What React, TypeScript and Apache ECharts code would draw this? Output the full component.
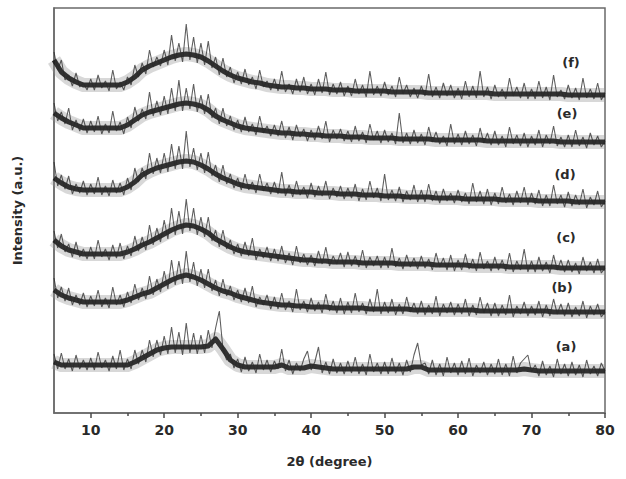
import React, { useEffect, useRef } from "react";
import * as echarts from "echarts";

// 2θ grid: 5° to 80°, raw traces in 0.5° steps (151 points), band centres in 1° steps (76 points)
const thetaStart = 5;
const thetaStep = 0.5;
const bandStep = 1;

const xTickLabels = [10, 20, 30, 40, 50, 60, 70, 80];
const xMinorTicks = [15, 25, 35, 45, 55, 65, 75];

const curveNames = ["(a)", "(b)", "(c)", "(d)", "(e)", "(f)"];

const curveA = [
  59, 44, 60, 44, 54, 42, 58, 44, 53, 43,
  55, 43, 61, 45, 53, 42, 57, 44, 63, 43,
  54, 44, 63, 49, 63, 51, 73, 56, 73, 58,
  77, 59, 86, 60, 81, 58, 90, 60, 80, 59,
  78, 60, 83, 65, 85, 102, 64, 53, 59, 45,
  54, 41, 56, 42, 51, 40, 59, 43, 53, 41,
  52, 44, 64, 42, 53, 39, 50, 42, 54, 62,
  43, 51, 66, 40, 51, 39, 54, 40, 50, 39,
  52, 40, 56, 39, 49, 38, 59, 41, 50, 39,
  51, 39, 55, 40, 50, 38, 53, 41, 58, 70,
  48, 50, 39, 53, 38, 49, 37, 56, 40, 50,
  38, 52, 39, 55, 37, 48, 40, 51, 38, 49,
  39, 54, 38, 49, 37, 57, 40, 50, 54, 58,
  41, 48, 37, 52, 38, 47, 36, 54, 39, 49,
  37, 51, 38, 48, 36, 53, 39, 47, 37, 50,
  42,
];

const curveB = [
  135, 115, 126, 112, 125, 108, 118, 108, 120, 106,
  117, 107, 123, 106, 115, 105, 126, 108, 118, 106,
  121, 110, 129, 113, 125, 114, 137, 118, 134, 121,
  142, 124, 153, 128, 152, 129, 162, 131, 151, 127,
  144, 125, 144, 122, 133, 117, 134, 117, 127, 113,
  123, 111, 125, 110, 127, 106, 116, 108, 118, 104,
  116, 104, 120, 103, 112, 101, 124, 103, 112, 101,
  115, 102, 111, 100, 119, 102, 112, 100, 115, 99,
  111, 100, 120, 101, 110, 99, 114, 101, 124, 99,
  111, 100, 114, 98, 109, 99, 116, 101, 110, 99,
  112, 98, 108, 99, 117, 97, 109, 100, 111, 98,
  109, 99, 114, 97, 108, 98, 116, 100, 110, 97,
  110, 97, 108, 98, 118, 96, 107, 99, 111, 97,
  107, 98, 112, 96, 108, 97, 114, 99, 109, 97,
  110, 96, 106, 97, 112, 95, 107, 98, 109, 96,
  101,
];

const curveC = [
  182, 165, 179, 161, 169, 156, 171, 156, 164, 154,
  166, 154, 173, 156, 164, 153, 168, 155, 170, 154,
  167, 157, 177, 162, 176, 163, 188, 168, 185, 171,
  193, 174, 205, 178, 202, 179, 214, 182, 205, 178,
  196, 176, 196, 172, 183, 166, 183, 164, 173, 159,
  169, 157, 171, 157, 175, 153, 164, 155, 166, 152,
  164, 152, 167, 150, 160, 148, 167, 150, 159, 148,
  158, 147, 162, 149, 166, 147, 157, 149, 160, 146,
  161, 147, 157, 146, 163, 145, 156, 147, 157, 145,
  156, 145, 165, 146, 155, 144, 158, 146, 155, 144,
  157, 145, 154, 143, 160, 146, 155, 143, 158, 142,
  153, 143, 159, 144, 154, 142, 161, 144, 152, 142,
  156, 143, 153, 142, 160, 141, 152, 143, 164, 141,
  152, 141, 156, 142, 151, 140, 158, 143, 153, 141,
  153, 141, 150, 139, 156, 142, 151, 140, 154, 140,
  145,
];

const curveD = [
  251, 227, 238, 224, 237, 219, 229, 220, 232, 218,
  229, 219, 236, 218, 227, 217, 233, 220, 230, 218,
  235, 223, 245, 231, 245, 234, 260, 239, 255, 240,
  260, 241, 269, 244, 267, 244, 282, 246, 265, 243,
  260, 240, 261, 237, 248, 231, 248, 229, 239, 225,
  235, 223, 239, 223, 231, 220, 239, 222, 230, 219,
  231, 219, 241, 217, 228, 216, 232, 218, 226, 215,
  230, 216, 227, 217, 232, 214, 225, 216, 227, 214,
  225, 215, 229, 212, 224, 213, 232, 215, 225, 212,
  239, 213, 223, 212, 226, 211, 222, 213, 228, 211,
  223, 211, 229, 212, 222, 210, 224, 212, 220, 210,
  223, 211, 220, 209, 230, 211, 222, 209, 224, 208,
  220, 209, 226, 210, 219, 208, 222, 210, 226, 208,
  220, 209, 223, 207, 218, 207, 228, 209, 218, 206,
  221, 207, 218, 208, 224, 205, 216, 208, 222, 206,
  212,
];

const curveE = [
  310, 292, 301, 289, 305, 283, 293, 282, 294, 280,
  292, 281, 297, 279, 289, 280, 302, 282, 291, 279,
  296, 285, 306, 292, 304, 294, 321, 297, 312, 298,
  317, 299, 325, 302, 333, 302, 325, 304, 329, 301,
  318, 299, 319, 295, 305, 289, 305, 287, 297, 283,
  293, 281, 296, 281, 289, 278, 297, 280, 287, 277,
  288, 277, 292, 275, 286, 273, 288, 276, 284, 272,
  283, 273, 287, 274, 292, 271, 283, 274, 284, 272,
  282, 271, 287, 272, 281, 270, 289, 273, 282, 270,
  283, 271, 280, 269, 300, 270, 280, 269, 283, 270,
  279, 268, 286, 271, 281, 269, 277, 267, 289, 269,
  279, 268, 282, 269, 278, 267, 285, 270, 280, 268,
  282, 268, 277, 266, 286, 269, 278, 267, 280, 266,
  277, 268, 283, 266, 278, 269, 287, 267, 276, 266,
  278, 266, 283, 267, 276, 265, 280, 268, 277, 266,
  272,
];

const curveF = [
  361, 343, 353, 333, 338, 327, 340, 326, 330, 323,
  334, 323, 338, 325, 332, 322, 343, 324, 331, 323,
  336, 328, 348, 336, 350, 339, 363, 346, 356, 347,
  363, 348, 378, 352, 370, 351, 389, 353, 376, 350,
  370, 348, 372, 345, 356, 338, 355, 336, 346, 330,
  341, 329, 344, 328, 336, 324, 343, 326, 332, 323,
  334, 322, 342, 321, 329, 319, 334, 321, 336, 319,
  329, 318, 334, 320, 341, 318, 329, 319, 331, 317,
  327, 317, 334, 319, 328, 316, 342, 318, 327, 317,
  331, 318, 327, 316, 336, 319, 328, 316, 325, 315,
  327, 317, 339, 316, 326, 315, 330, 317, 328, 315,
  325, 314, 332, 316, 327, 315, 342, 316, 326, 314,
  328, 316, 324, 314, 335, 317, 326, 315, 330, 314,
  324, 314, 332, 315, 326, 313, 338, 316, 323, 314,
  328, 315, 325, 313, 335, 315, 324, 314, 330, 313,
  320,
];

// dense (dark) part of each trace, read at 1° steps
const bandA = [
  51, 48, 48, 48, 48, 48, 48, 48, 48, 48,
  48, 51, 55, 59, 63, 65, 66, 66, 66, 66,
  66, 67, 74, 64, 53, 48, 46, 46, 46, 46,
  46, 48, 45, 45, 45, 47, 46, 45, 44, 44,
  44, 44, 44, 44, 44, 44, 44, 44, 44, 46,
  46, 43, 43, 43, 43, 43, 43, 43, 43, 43,
  43, 43, 43, 43, 44, 43, 42, 42, 42, 42,
  42, 42, 42, 42, 42, 42,
];
const bandB = [
  123, 118, 115, 113, 111, 111, 111, 111, 111, 111,
  113, 116, 119, 121, 125, 129, 133, 136, 138, 136,
  133, 129, 125, 122, 120, 117, 115, 113, 111, 110,
  109, 108, 108, 107, 107, 106, 106, 106, 105, 105,
  105, 105, 105, 104, 104, 104, 104, 104, 104, 103,
  103, 103, 103, 103, 103, 103, 103, 103, 102, 102,
  102, 102, 102, 102, 102, 102, 102, 102, 101, 101,
  101, 101, 101, 101, 101, 101,
];
const bandC = [
  173, 167, 163, 161, 159, 159, 159, 159, 159, 159,
  161, 164, 168, 171, 175, 179, 183, 186, 188, 187,
  184, 180, 174, 170, 166, 163, 161, 160, 159, 158,
  157, 156, 155, 154, 153, 153, 152, 152, 151, 151,
  151, 151, 150, 150, 150, 150, 150, 149, 149, 149,
  149, 149, 148, 148, 148, 148, 148, 147, 147, 147,
  147, 147, 146, 146, 146, 146, 146, 146, 146, 145,
  145, 145, 145, 145, 145, 145,
];
const bandD = [
  235, 230, 226, 224, 223, 223, 223, 223, 223, 223,
  226, 231, 238, 242, 245, 247, 249, 251, 252, 251,
  248, 244, 239, 235, 232, 229, 227, 226, 225, 224,
  223, 222, 222, 221, 221, 221, 220, 220, 220, 219,
  219, 219, 218, 218, 218, 217, 217, 217, 216, 216,
  216, 216, 215, 215, 215, 215, 214, 214, 214, 214,
  214, 213, 213, 213, 213, 213, 212, 212, 212, 212,
  212, 211, 211, 211, 211, 211,
];
const bandE = [
  300, 295, 291, 288, 285, 285, 285, 285, 285, 285,
  288, 293, 298, 301, 303, 305, 307, 309, 310, 309,
  307, 303, 297, 293, 290, 287, 285, 284, 283, 282,
  281, 280, 280, 279, 279, 278, 278, 277, 277, 277,
  276, 276, 276, 275, 275, 275, 275, 274, 274, 274,
  274, 274, 273, 273, 273, 273, 273, 273, 273, 272,
  272, 272, 272, 272, 272, 272, 272, 272, 272, 271,
  271, 271, 271, 271, 271, 271,
];
const bandF = [
  353, 341, 335, 331, 328, 328, 328, 328, 328, 328,
  331, 336, 343, 347, 350, 353, 356, 358, 359, 358,
  356, 352, 347, 342, 338, 335, 333, 331, 330, 328,
  327, 326, 326, 325, 325, 324, 324, 324, 323, 323,
  323, 322, 322, 322, 322, 322, 321, 321, 321, 321,
  321, 320, 320, 320, 320, 320, 320, 320, 320, 320,
  319, 319, 319, 319, 319, 319, 319, 319, 319, 319,
  318, 318, 318, 318, 318, 318,
];

const curves = [curveA, curveB, curveC, curveD, curveE, curveF];
const bands = [bandA, bandB, bandC, bandD, bandE, bandF];

const toPairs = (vals: number[], step: number) =>
  vals.map((v, i) => [thetaStart + i * step, v]);

export default function App() {
  const ref = useRef<HTMLDivElement>(null);

  useEffect(() => {
    document.body.style.margin = "0";
    if (!ref.current) return;
    const chart = echarts.init(ref.current, undefined, { renderer: "svg" });
    const font = "DejaVu Sans, Verdana, sans-serif";
    const textColor = "#2a2a2a";
    const labelPos = [
      [566, 346],
      [562, 287],
      [566, 237],
      [565, 174],
      [567, 113],
      [571, 62],
    ];
    const haloSeries = bands.map((b, i) => ({
      name: curveNames[i] + " halo",
      type: "line",
      data: toPairs(b, bandStep),
      showSymbol: false,
      symbol: "none",
      silent: true,
      lineStyle: { color: "#909090", width: 14, opacity: 0.35, cap: "butt", join: "round" },
      z: 1,
    }));
    const bandSeries = bands.map((b, i) => ({
      name: curveNames[i] + " band",
      type: "line",
      data: toPairs(b, bandStep),
      showSymbol: false,
      symbol: "none",
      silent: true,
      lineStyle: { color: "#141414", width: 5, opacity: 0.85, cap: "butt", join: "round" },
      z: 2,
    }));
    const noiseSeries = curves.map((c, i) => ({
      name: curveNames[i],
      type: "line",
      data: toPairs(c, thetaStep),
      showSymbol: false,
      symbol: "none",
      lineStyle: { color: "#2a2a2a", width: 1.1, opacity: 0.75 },
      z: 3,
    }));
    chart.setOption({
      animation: false,
      backgroundColor: "#ffffff",
      grid: {
        left: 54,
        right: 21,
        top: 8,
        bottom: 66,
        show: true,
        borderColor: "#6a6a6a",
        borderWidth: 1.5,
        backgroundColor: "transparent",
      },
      xAxis: [
        {
          type: "value",
          min: 5,
          max: 80,
          name: "2θ (degree)",
          nameLocation: "middle",
          nameGap: 42,
          nameTextStyle: {
            fontFamily: font,
            fontWeight: "bold",
            fontSize: 13,
            color: textColor,
          },
          axisLine: { show: true, onZero: false, lineStyle: { color: "#6a6a6a", width: 1.5 } },
          axisTick: {
            show: true,
            inside: false,
            length: 5,
            customValues: xTickLabels,
            lineStyle: { color: "#4a4a4a", width: 1.5 },
          },
          axisLabel: {
            customValues: xTickLabels,
            margin: 10,
            fontFamily: font,
            fontWeight: "bold",
            fontSize: 14,
            color: textColor,
          },
          splitLine: { show: false },
        },
        {
          type: "value",
          min: 5,
          max: 80,
          position: "bottom",
          axisLine: { show: false },
          axisTick: {
            show: true,
            length: 3,
            customValues: xMinorTicks,
            lineStyle: { color: "#4a4a4a", width: 1.5 },
          },
          axisLabel: { show: false },
          splitLine: { show: false },
        },
      ],
      yAxis: {
        type: "value",
        min: 0,
        max: 405,
        name: "Intensity (a.u.)",
        nameLocation: "middle",
        nameGap: 30,
        nameRotate: 90,
        nameTextStyle: {
          fontFamily: font,
          fontWeight: "bold",
          fontSize: 13,
          color: textColor,
        },
        axisLine: { show: true, lineStyle: { color: "#6a6a6a", width: 1.5 } },
        axisTick: { show: false },
        axisLabel: { show: false },
        splitLine: { show: false },
      },
      series: [...haloSeries, ...bandSeries, ...noiseSeries],
      graphic: curveNames.map((n, i) => ({
        type: "text",
        x: labelPos[i][0],
        y: labelPos[i][1],
        style: {
          text: n,
          fontFamily: font,
          fontWeight: "bold",
          fontSize: 13,
          fill: textColor,
          textAlign: "center",
          textVerticalAlign: "middle",
        },
      })),
    });
    return () => chart.dispose();
  }, []);

  return <div ref={ref} style={{ width: 626, height: 479 }} />;
}
